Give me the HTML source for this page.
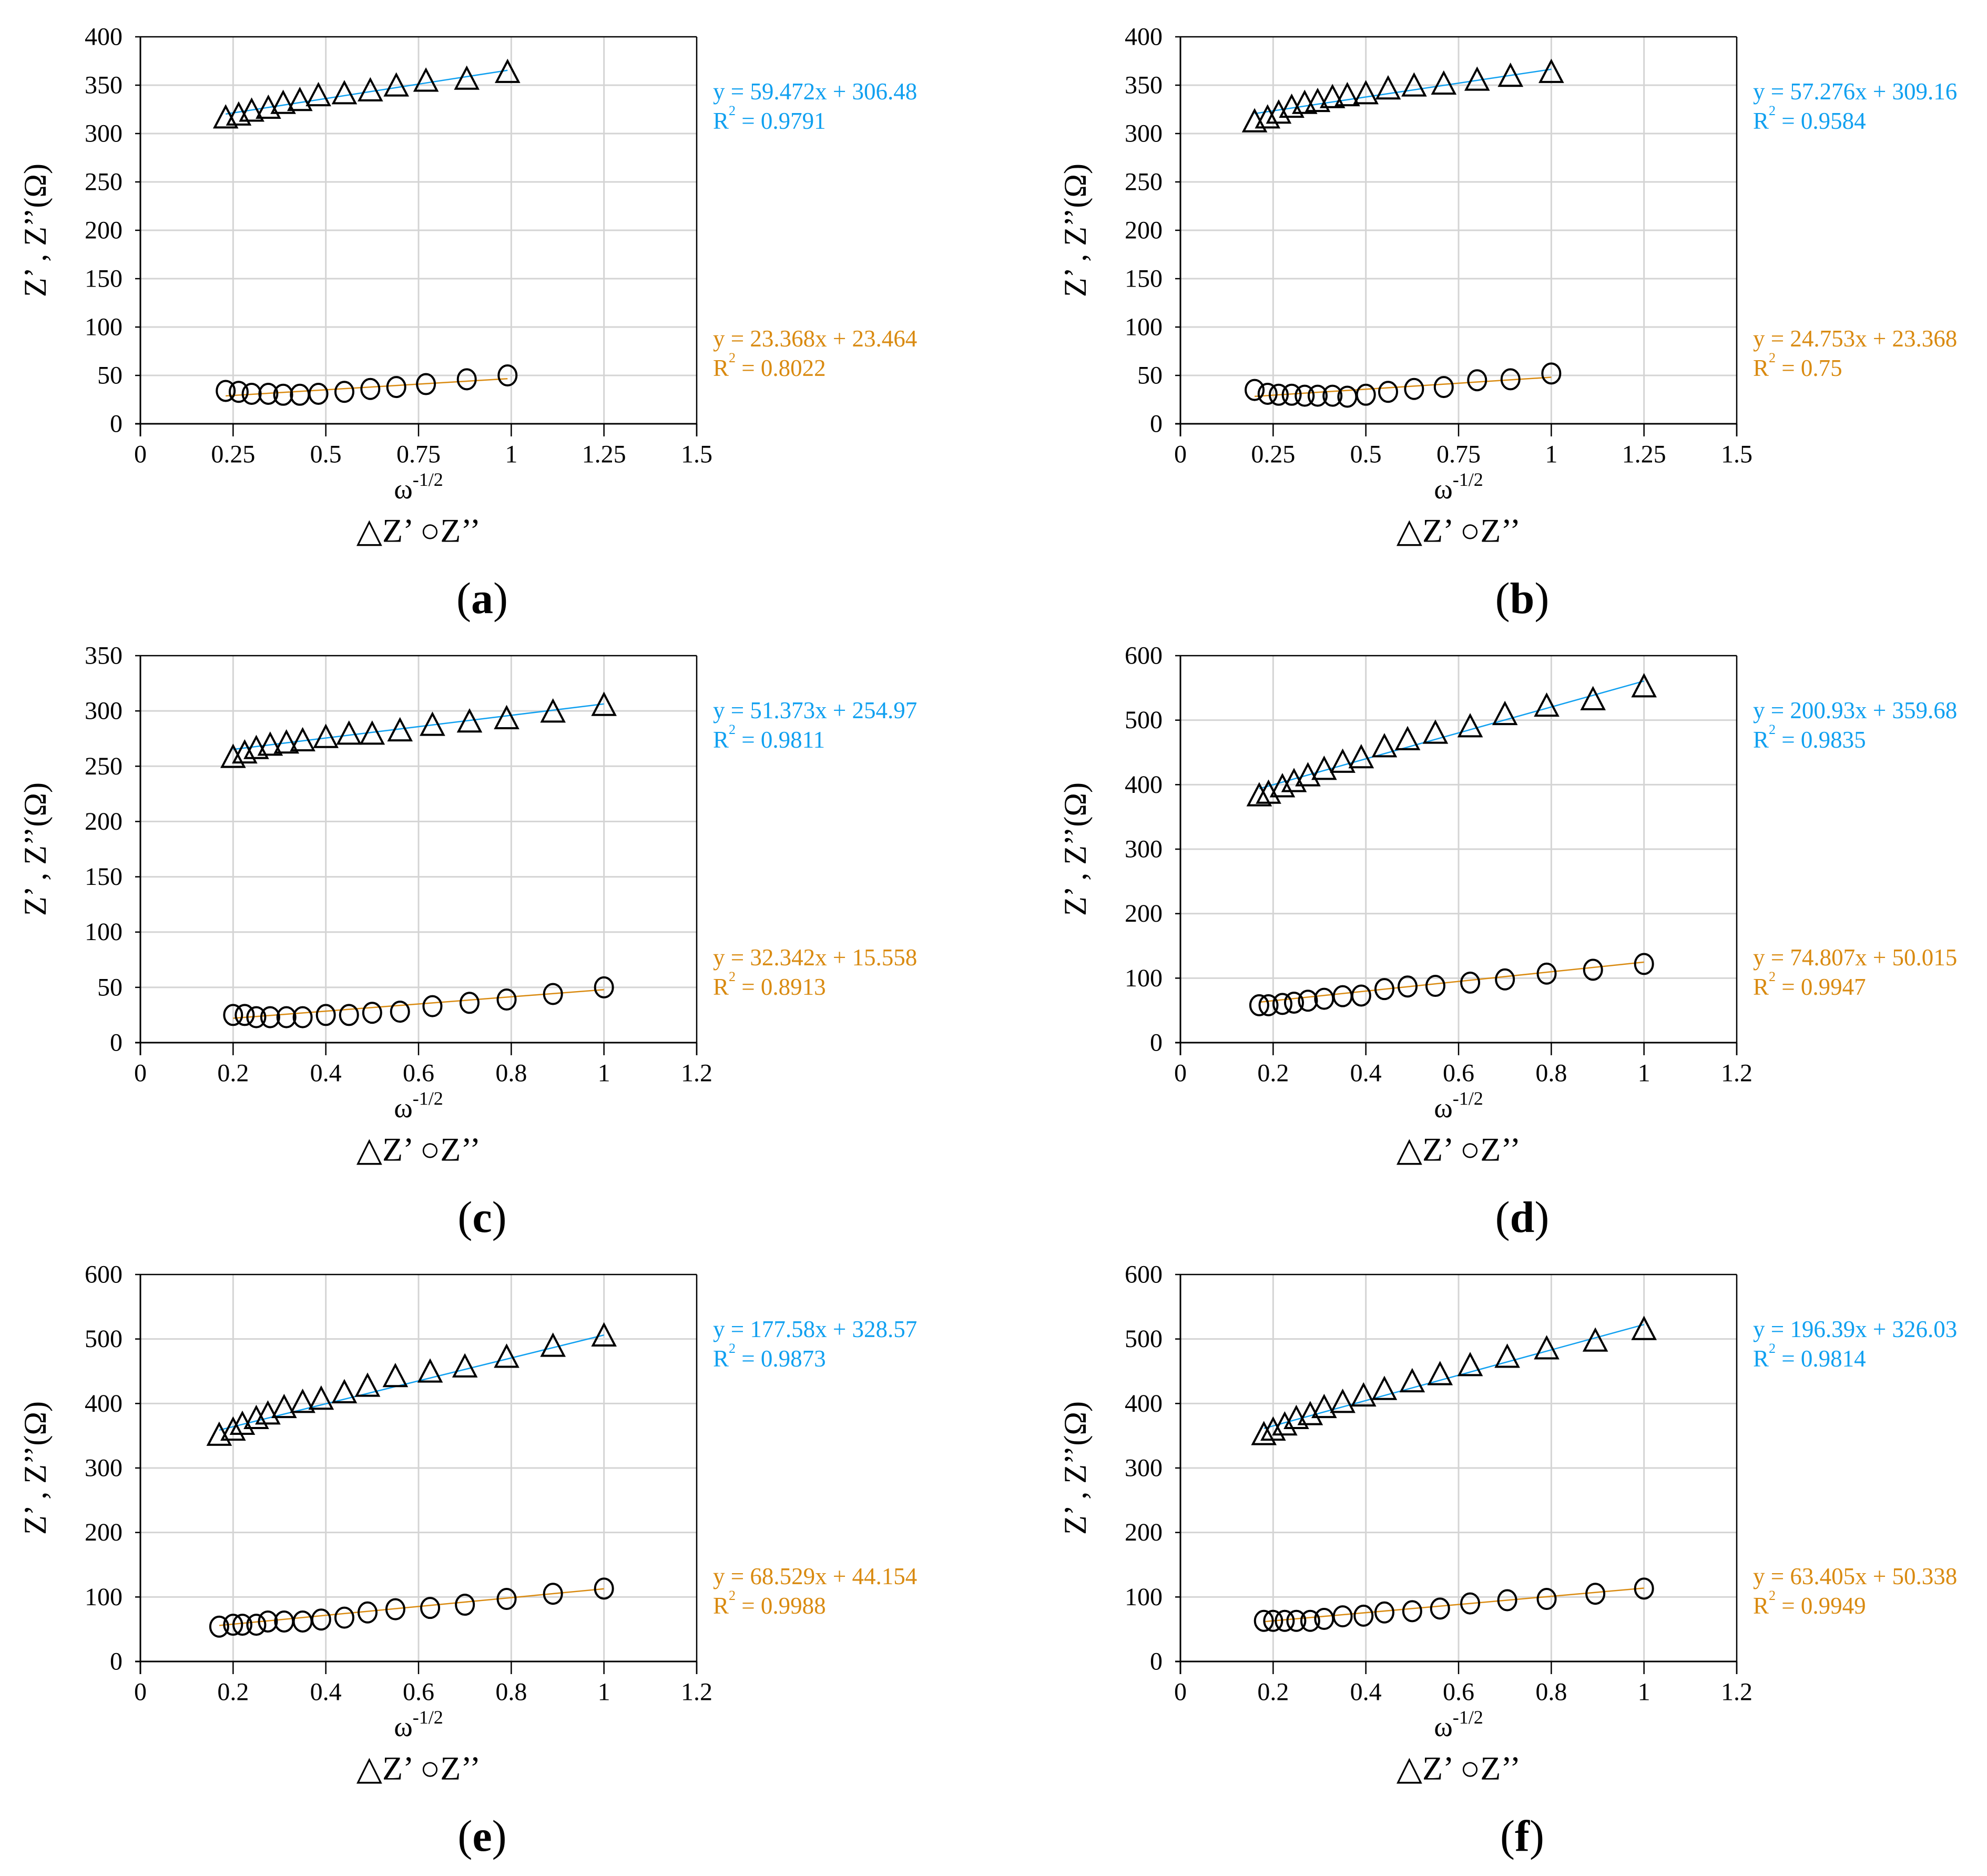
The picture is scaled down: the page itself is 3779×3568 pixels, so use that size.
<!DOCTYPE html>
<html><head><meta charset="utf-8"><style>
html,body{margin:0;padding:0;background:#fff}
svg text{font-family:"Liberation Serif",serif}
</style></head><body>
<svg id="fig" xmlns="http://www.w3.org/2000/svg" width="3779" height="3563" viewBox="0 0 3779 3563">
<rect width="3779" height="3563" fill="#fff"/>
</svg>
<script>
// Panel data
const panelLabels = ["a","b","c","d","e","f"];
const xMaxes = [1.5,1.5,1.2,1.2,1.2,1.2];
const xStepsArr = [0.25,0.25,0.2,0.2,0.2,0.2];
const yMaxes = [400,400,350,600,600,600];
const yStepsArr = [50,50,50,100,100,100];
const xTickLabelsA = ["0","0.25","0.5","0.75","1","1.25","1.5"];
const xTickLabelsC = ["0","0.2","0.4","0.6","0.8","1","1.2"];
const slopesZ1 = [59.472,57.276,51.373,200.93,177.58,196.39];
const interceptsZ1 = [306.48,309.16,254.97,359.68,328.57,326.03];
const r2Z1 = ["0.9791","0.9584","0.9811","0.9835","0.9873","0.9814"];
const slopesZ2 = [23.368,24.753,32.342,74.807,68.529,63.405];
const interceptsZ2 = [23.464,23.368,15.558,50.015,44.154,50.338];
const r2Z2 = ["0.8022","0.75","0.8913","0.9947","0.9988","0.9949"];

const xA = [0.23,0.265,0.30,0.345,0.385,0.43,0.48,0.55,0.62,0.69,0.77,0.88,0.99];
const zReA = [315,318,322,325,330,333,338,340,343,348,353,355,362];
const zImA = [34,33,31,31,30,30,31,33,36,38,41,46,50];
const xB = [0.2,0.235,0.265,0.3,0.335,0.37,0.41,0.45,0.5,0.56,0.63,0.71,0.8,0.89,1.0];
const zReB = [311,315,320,326,330,332,336,338,340,345,348,350,354,358,362];
const zImB = [35,31,30,30,29,29,29,28,30,33,36,38,45,46,52];
const xC = [0.2,0.225,0.25,0.28,0.315,0.35,0.4,0.45,0.5,0.56,0.63,0.71,0.79,0.89,1.0];
const zReC = [257,261,265,268,270,272,275,278,278,281,286,289,292,298,304];
const zImC = [25,25,23,23,23,23,25,25,27,28,33,36,39,44,50];
const xD = [0.17,0.19,0.22,0.245,0.275,0.31,0.35,0.39,0.44,0.49,0.55,0.625,0.70,0.79,0.89,1.0];
const zReD = [381,385,395,403,412,422,433,440,457,468,478,488,507,520,530,550];
const zImD = [58,58,60,62,65,68,72,73,83,87,88,93,98,107,113,122];
const xE = [0.17,0.2,0.22,0.25,0.275,0.31,0.35,0.39,0.44,0.49,0.55,0.625,0.70,0.79,0.89,1.0];
const zReE = [349,357,366,375,382,392,400,405,415,425,440,447,455,470,487,503];
const zImE = [54,57,57,57,62,62,62,65,68,76,81,83,88,97,105,113];
const xF = [0.18,0.2,0.225,0.25,0.28,0.31,0.35,0.395,0.44,0.5,0.56,0.625,0.705,0.79,0.895,1.0];
const zReF = [350,357,365,375,381,392,400,410,420,432,443,457,470,483,495,513];
const zImF = [63,63,63,63,63,66,70,71,76,78,82,90,95,97,105,113];

const xsAll = [xA,xB,xC,xD,xE,xF];
const reAll = [zReA,zReB,zReC,zReD,zReE,zReF];
const imAll = [zImA,zImB,zImC,zImD,zImE,zImF];

const NS = "http://www.w3.org/2000/svg";
const svg = document.getElementById("fig");
const BLUE = "#10a0f0", ORANGE = "#d98a10";
function mk(tag, attrs, parent){
  const e = document.createElementNS(NS, tag);
  for (const k in attrs) e.setAttribute(k, attrs[k]);
  (parent||svg).appendChild(e);
  return e;
}
function txt(parent, x, y, s, size, anchor, fill, extra){
  const t = mk("text", Object.assign({x:x, y:y, "font-size":size, "text-anchor":anchor||"start", fill:fill||"#000", "dominant-baseline":"central"}, extra||{}), parent);
  t.textContent = s;
  return t;
}

for (let p = 0; p < 6; p++) {
  const col = p % 2, row = Math.floor(p / 2);
  const L = 267 + col*1978, R = L + 1058;
  const T = 70 + row*1177, B = T + 736;
  const xMax = xMaxes[p], yMax = yMaxes[p], xs = xStepsArr[p], ys = yStepsArr[p];
  const sx = v => L + v / xMax * (R - L);
  const sy = v => B - v / yMax * (B - T);
  const g = mk("g", {});
  
  

  const grid = mk("g", {}, g);
  
  
  const nx = Math.round(xMax / xs), ny = Math.round(yMax / ys);
  for (let i = 1; i < nx; i++) mk("line", {x1:sx(i*xs), x2:sx(i*xs), y1:T, y2:B, stroke:"#d4d4d4", "stroke-width":3}, grid);
  for (let j = 1; j < ny; j++) mk("line", {x1:L, x2:R, y1:sy(j*ys), y2:sy(j*ys), stroke:"#d4d4d4", "stroke-width":3}, grid);
  mk("line", {x1:L, x2:R, y1:T, y2:T, stroke:"#000", "stroke-width":2.5}, g);
  mk("line", {x1:R, x2:R, y1:T, y2:B+24, stroke:"#000", "stroke-width":2.5}, g);
  const xAxis = mk("line", {x1:L-10, x2:R, y1:B, y2:B, stroke:"#000", "stroke-width":3}, g);
  
  
  const yAxis = mk("line", {x1:L, x2:L, y1:T, y2:B+24, stroke:"#000", "stroke-width":3}, g);
  
  

  const xl = (xMax === 1.5) ? xTickLabelsA : xTickLabelsC;
  for (let i = 0; i <= nx; i++) {
    mk("line", {x1:sx(i*xs), x2:sx(i*xs), y1:B, y2:B+24, stroke:"#000", "stroke-width":2.5}, g);
    const t = txt(g, sx(i*xs), B+58, xl[i], 48, "middle");
    
    
  }
  for (let j = 0; j <= ny; j++) {
    mk("line", {x1:L-10, x2:L, y1:sy(j*ys), y2:sy(j*ys), stroke:"#000", "stroke-width":2.5}, g);
    const t = txt(g, L-34, sy(j*ys), String(j*ys), 48, "end");
    
    
  }

  const yt = txt(g, 0, 0, "Z’ , Z’’(Ω)", 60, "middle", "#000", {transform:"translate(" + (L-200) + "," + ((T+B)/2) + ") rotate(-90)"});
  
  
  const xt = mk("text", {x:(L+R)/2, y:B+124, "font-size":54, "text-anchor":"middle", "dominant-baseline":"central"}, g);
  
  
  xt.innerHTML = 'ω<tspan font-size="36" dy="-18">-1/2</tspan>';
  const lg = txt(g, (L+R)/2, B+203, "△Z’ ○Z’’", 64, "middle");
  
  
  const pl = mk("text", {x:(L+R)/2 + 121, y:B+332, "font-size":84, "text-anchor":"middle", "dominant-baseline":"central"}, g);
  
  
  pl.innerHTML = '(<tspan font-weight="bold">' + panelLabels[p] + '</tspan>)';

  const xsArr = xsAll[p];
  const x0 = xsArr[0], x1 = xsArr[xsArr.length-1];
  const l1 = mk("line", {x1:sx(x0), y1:sy(slopesZ1[p]*x0+interceptsZ1[p]), x2:sx(x1), y2:sy(slopesZ1[p]*x1+interceptsZ1[p]), stroke:BLUE, "stroke-width":2.5}, g);
  
  
  const l2 = mk("line", {x1:sx(x0), y1:sy(slopesZ2[p]*x0+interceptsZ2[p]), x2:sx(x1), y2:sy(slopesZ2[p]*x1+interceptsZ2[p]), stroke:ORANGE, "stroke-width":2.5}, g);
  
  

  const re = reAll[p], im = imAll[p];
  for (let i = 0; i < xsArr.length; i++) {
    const cx = sx(xsArr[i]), cyt = sy(re[i]), cyc = sy(im[i]);
    const tri = mk("polygon", {points:(cx)+","+(cyt-24)+" "+(cx-21)+","+(cyt+16)+" "+(cx+21)+","+(cyt+16), fill:"none", stroke:"#000", "stroke-width":4}, g);
    
    
    const c = mk("ellipse", {cx:cx, cy:cyc, rx:17, ry:19, fill:"none", stroke:"#000", "stroke-width":4}, g);
    
    
  }

  const ex = L + 1089;
  const e1 = txt(g, ex, T+104, "y = " + slopesZ1[p] + "x + " + interceptsZ1[p].toFixed(2), 45, "start", BLUE);
  
  
  const r1 = mk("text", {x:ex, y:T+160, "font-size":45, fill:BLUE, "dominant-baseline":"central"}, g);
  
  
  r1.innerHTML = 'R<tspan font-size="26" dy="-20">2</tspan><tspan dy="20"> = ' + r2Z1[p] + '</tspan>';
  const e2 = txt(g, ex, T+574, "y = " + slopesZ2[p] + "x + " + interceptsZ2[p].toFixed(3), 45, "start", ORANGE);
  
  
  const r2 = mk("text", {x:ex, y:T+630, "font-size":45, fill:ORANGE, "dominant-baseline":"central"}, g);
  
  
  r2.innerHTML = 'R<tspan font-size="26" dy="-20">2</tspan><tspan dy="20"> = ' + r2Z2[p] + '</tspan>';
}
</script>
</body></html>
